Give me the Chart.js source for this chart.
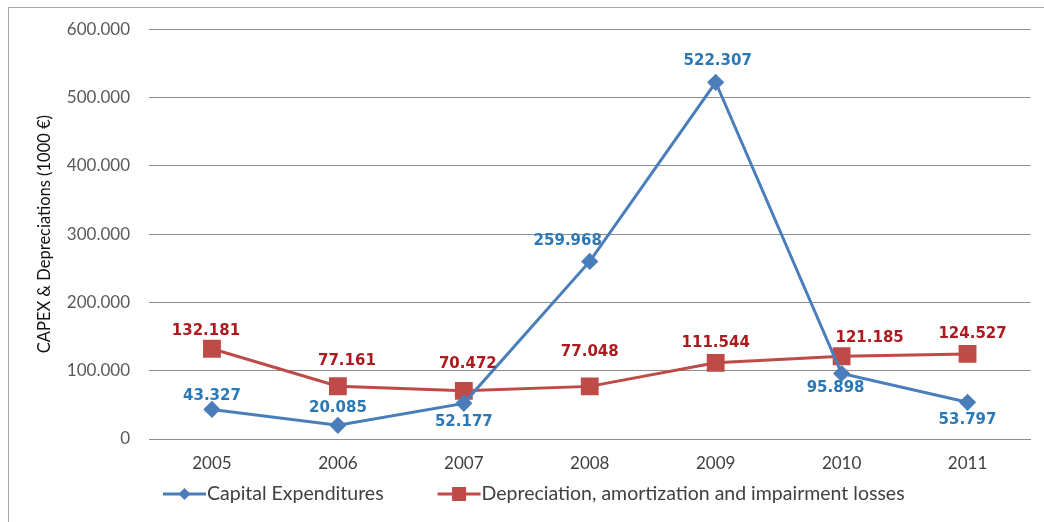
<!DOCTYPE html>
<html>
<head>
<meta charset="utf-8">
<script src="https://cdn.jsdelivr.net/npm/chart.js@4"></script>
<style>
  html, body { margin: 0; padding: 0; background: #fff; overflow: hidden; }
  #wrap { position: relative; width: 1044px; height: 522px; }
  #frame { position: absolute; left: 8px; top: 7px; width: 1100px; height: 600px; border-left: 1px solid #a6a6a6; border-top: 1px solid #a6a6a6; }
  #capex { position: absolute; left: 0; top: 0; }
</style>
</head>
<body>
<div id="wrap">
  <div id="frame"></div>
  <canvas id="capex" width="1044" height="522"></canvas>
</div>
<script>
// CAPEX vs depreciation, values in 1000 €
const years = ['2005', '2006', '2007', '2008', '2009', '2010', '2011'];
const capexValues = [43327, 20085, 52177, 259968, 522307, 95898, 53797];
const deprValues = [132181, 77161, 70472, 77048, 111544, 121185, 124527];
const yTicks = [0, 100000, 200000, 300000, 400000, 500000, 600000];

const BLUE = '#4a7ebb', RED = '#be4b48';
const BLUE_TXT = '#2a78b6', RED_TXT = '#ad1a1f';
const FONT = 'Lato, "Open Sans", sans-serif';

// label nudges (px) relative to each marker
const capexLabelPos = [[0, -13], [0, -17], [0, 19], [-22, -20], [2, -21], [-6, 15], [0, 18]];
const deprLabelPos = [[-6, -18], [9, -25], [4, -27], [0, -34], [0, -20], [28, -18], [5, -20]];

function fmtDot(v) { return String(v).replace(/\B(?=(\d{3})+(?!\d))/g, '.'); }

const valueLabels = {
  id: 'valueLabels',
  afterDatasetsDraw(chart) {
    const ctx = chart.ctx;
    ctx.save();
    ctx.font = 'bold 15px "DejaVu Sans", Verdana, sans-serif';
    ctx.textAlign = 'center';
    ctx.textBaseline = 'middle';
    chart.data.datasets.forEach((ds, i) => {
      const meta = chart.getDatasetMeta(i);
      const pos = ds.labelPos;
      ctx.fillStyle = ds.labelColor;
      meta.data.forEach((pt, j) => {
        ctx.fillText(fmtDot(ds.data[j]), pt.x + pos[j][0], pt.y + pos[j][1]);
      });
    });
    ctx.restore();
  }
};

// legend with a short line + marker swatch, like the series themselves
const lineLegend = {
  id: 'lineLegend',
  afterDraw(chart) {
    const ctx = chart.ctx;
    const y = 494;
    let x = chart.chartArea.left + 14;
    ctx.save();
    ctx.font = '19.5px ' + FONT;
    ctx.textBaseline = 'middle';
    ctx.textAlign = 'left';
    chart.data.datasets.forEach(ds => {
      ctx.strokeStyle = ds.borderColor;
      ctx.lineWidth = 3;
      ctx.beginPath(); ctx.moveTo(x, y); ctx.lineTo(x + 43, y); ctx.stroke();
      ctx.fillStyle = ds.borderColor;
      const cx = x + 21.5;
      if (ds.pointStyle === 'rect') {
        ctx.fillRect(cx - 7, y - 7, 14, 14);
      } else {
        ctx.beginPath();
        ctx.moveTo(cx, y - 6); ctx.lineTo(cx + 6, y); ctx.lineTo(cx, y + 6); ctx.lineTo(cx - 6, y);
        ctx.closePath(); ctx.fill();
      }
      ctx.fillStyle = '#404040';
      ctx.fillText(ds.label, x + 44, y);
      x += 44 + ctx.measureText(ds.label).width + 54;
    });
    ctx.restore();
  }
};

new Chart(document.getElementById('capex'), {
  type: 'line',
  data: {
    labels: years,
    datasets: [
      { label: 'Capital Expenditures', data: capexValues, borderColor: BLUE, backgroundColor: BLUE,
        borderWidth: 3, pointStyle: 'rectRot', pointRadius: 6.5, pointHoverRadius: 6.5,
        tension: 0, labelColor: BLUE_TXT, labelPos: capexLabelPos },
      { label: 'Depreciation, amortization and impairment losses', data: deprValues, borderColor: RED, backgroundColor: RED,
        borderWidth: 3, pointStyle: 'rect', pointRadius: 10.5, pointHoverRadius: 10.5,
        tension: 0, labelColor: RED_TXT, labelPos: deprLabelPos }
    ]
  },
  options: {
    responsive: false,
    animation: false,
    layout: { padding: { left: 0, top: 26, right: 13, bottom: 0 } },
    plugins: { legend: { display: false }, tooltip: { enabled: false } },
    scales: {
      x: {
        offset: true,
        grid: { display: false, drawTicks: false },
        border: { display: true, color: '#8c8c8c', width: 1 },
        ticks: { color: '#404040', font: { family: FONT, size: 17 }, padding: 14, maxRotation: 0 },
        afterFit(s) { s.height = 83; }
      },
      y: {
        min: 0, max: 600000,
        afterBuildTicks(s) { s.ticks = yTicks.map(v => ({ value: v })); },
        grid: { color: '#8c8c8c', drawTicks: false },
        border: { display: false },
        ticks: { color: '#595959', font: { family: FONT, size: 17 }, padding: 19, callback: v => fmtDot(v) },
        title: { display: true, text: 'CAPEX & Depreciations (1000 €)', color: '#111',
                 font: { family: FONT, size: 16.5 }, padding: { top: 35, bottom: 0 } },
        afterFit(s) { s.width = 149; }
      }
    }
  },
  plugins: [valueLabels, lineLegend]
});
</script>
</body>
</html>
